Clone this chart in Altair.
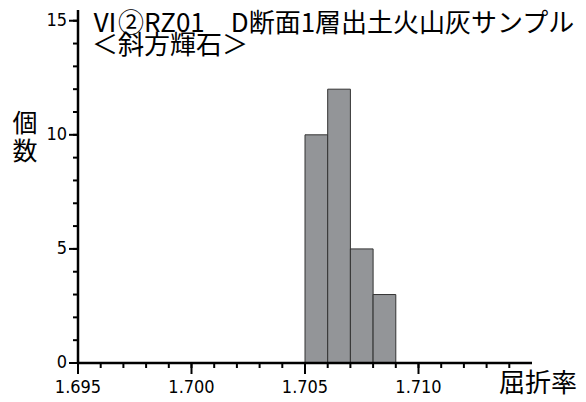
import altair as alt
import pandas as pd

# data
bin_start = [1.705, 1.706, 1.707, 1.708]
bin_end = [1.706, 1.707, 1.708, 1.709]
counts = [10, 12, 5, 3]

x_major = [1.695, 1.700, 1.705, 1.710]
x_labels = ["1.695", "1.700", "1.705", "1.710"]
x_minor = [round(1.695 + 0.001 * i, 3) for i in range(20)]
y_major = [0, 5, 10, 15]
y_labels = ["0", "5", "10", "15"]
y_minor = list(range(16))

title1 = "Ⅵ②RZ01　D断面1層出土火山灰サンプル"
title2 = "＜斜方輝石＞"
ytitle = ["個", "数"]
xtitle = "屈折率"

W, H = 454, 353

df = pd.DataFrame({"start": bin_start, "end": bin_end, "count": counts})

LABEL_FONT = "Liberation Sans Narrow, DejaVu Sans Condensed, Liberation Sans, Arial"
CJK = "Noto Sans CJK JP"

xscale = alt.Scale(domain=[1.695, 1.715], nice=False, zero=False)
yscale = alt.Scale(domain=[0, 15.47], nice=False)

bars = alt.Chart(df).mark_rect(fill="#939598", stroke="#333333", strokeWidth=1).encode(
    x=alt.X("start:Q", scale=xscale, axis=None),
    x2="end:Q",
    y=alt.Y("count:Q", scale=yscale, axis=None),
    y2=alt.datum(0),
)

# axis lines
x_domain = alt.Chart(pd.DataFrame({"a": [0]})).mark_rule(color="#000000", strokeWidth=2.5).encode(
    x=alt.value(0), x2=alt.value(W), y=alt.value(H))
y_domain = alt.Chart(pd.DataFrame({"a": [0]})).mark_rule(color="#000000", strokeWidth=2.5).encode(
    x=alt.value(0), y=alt.value(0), y2=alt.value(H))

# tick marks
def xticks(vals, size):
    return alt.Chart(pd.DataFrame({"v": vals})).mark_rule(color="#000000", strokeWidth=2).encode(
        x=alt.X("v:Q", scale=xscale, axis=None), y=alt.value(H), y2=alt.value(H + size))

def yticks(vals, size):
    return alt.Chart(pd.DataFrame({"v": vals})).mark_rule(color="#000000", strokeWidth=2).encode(
        y=alt.Y("v:Q", scale=yscale, axis=None), x=alt.value(-size), x2=alt.value(0))

# tick labels
xlab = alt.Chart(pd.DataFrame({"v": x_major, "t": x_labels})).mark_text(
    font=LABEL_FONT, fontSize=18, align="center", baseline="alphabetic", color="black"
).encode(x=alt.X("v:Q", scale=xscale, axis=None), y=alt.value(H + 30), text="t:N")

ylab = alt.Chart(pd.DataFrame({"v": y_major, "t": y_labels})).mark_text(
    font=LABEL_FONT, fontSize=18, align="right", baseline="middle", color="black"
).encode(y=alt.Y("v:Q", scale=yscale, axis=None), x=alt.value(-11), text="t:N")

def text_layer(t, x, y, align="left", baseline="alphabetic", size=26):
    return alt.Chart(pd.DataFrame({"t": [t]})).mark_text(
        font=CJK, fontSize=size, align=align, baseline=baseline, color="black"
    ).encode(x=alt.value(x), y=alt.value(y), text="t:N")

t1 = text_layer(title1, 14, 22)
t2 = text_layer(title2, 14, 44)
yt1 = text_layer(ytitle[0], -53, 114, align="center", baseline="middle", size=25)
yt2 = text_layer(ytitle[1], -53, 142, align="center", baseline="middle", size=25)
xt = text_layer(xtitle, 421, 374, baseline="middle", size=26)

chart = alt.layer(
    bars, xlab, ylab, t1, t2, yt1, yt2, xt,
    xticks(x_minor, 5), xticks(x_major, 11), yticks(y_minor, 5), yticks(y_major, 9),
    x_domain, y_domain
).properties(
    width=W, height=H,
    autosize=alt.AutoSizeParams(type="none"),
    padding={"left": 70, "top": 2, "right": 46, "bottom": 39},
).configure_view(stroke=None)

chart.save("out.html", embed_options={"renderer": "svg", "actions": False})
